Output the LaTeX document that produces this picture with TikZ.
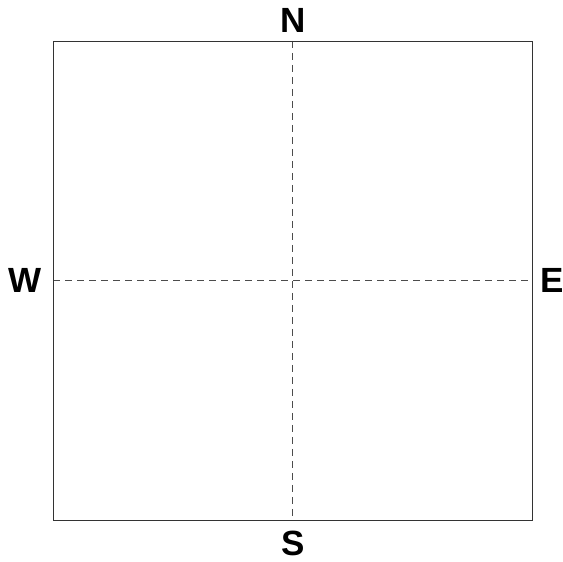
\documentclass[tikz,border=0pt]{standalone}
\usepackage{fontspec}
\setmainfont{Liberation Sans}
\begin{document}
\begin{tikzpicture}[x=1pt,y=1pt,
  frame/.style={draw=black!80, line width=0.9pt},
  axis/.style={draw=black!70, line width=0.9pt, dash pattern=on 7pt off 5pt},
  lbl/.style={anchor=base, inner sep=0pt, font=\fontsize{35}{35}\selectfont\bfseries}]
\useasboundingbox (0,0) rectangle (563,562);
\coordinate (bl) at (53,42);
\coordinate (tr) at (532,521);
\coordinate (n) at (292.5,521);
\coordinate (s) at (292.5,42);
\coordinate (w) at (53,281.5);
\coordinate (e) at (532,281.5);
\draw[axis] (n) -- (s);
\draw[axis] (w) -- (e);
\draw[frame] (bl) rectangle (tr);
\node[lbl] (N) at (293,529) {N};
\node[lbl] (S) at (293,6) {S};
\node[lbl] (W) at (25,269) {W};
\node[lbl] (E) at (552.5,269) {E};
\end{tikzpicture}
\end{document}
